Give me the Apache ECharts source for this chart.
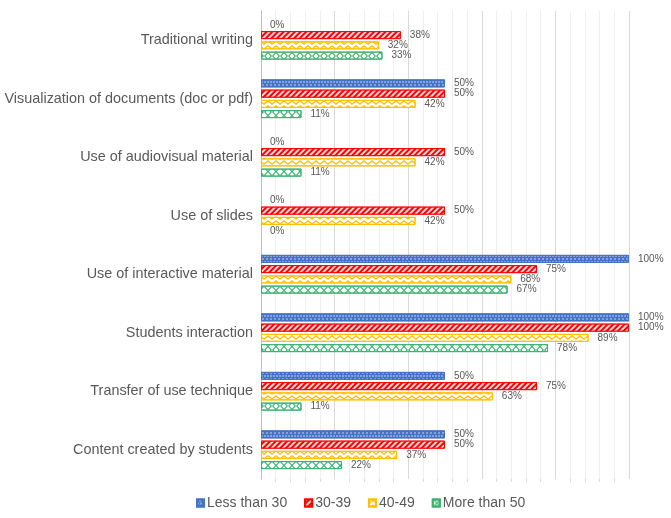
<!DOCTYPE html>
<html>
<head>
<meta charset="utf-8">
<script src="https://cdn.jsdelivr.net/npm/echarts@6/dist/echarts.min.js"></script>
<style>
  html, body { margin: 0; padding: 0; background: #fff; }
  #chart { width: 671px; height: 518px; }
</style>
</head>
<body>
<div id="chart"></div>
<script>
// categories, top to bottom
const categories = [
  'Traditional writing',
  'Visualization of documents (doc or pdf)',
  'Use of audiovisual material',
  'Use of slides',
  'Use of interactive material',
  'Students interaction',
  'Transfer of use technique',
  'Content created by students'
];

const seriesNames = ['Less than 30', '30-39', '40-49', 'More than 50'];

// percentages per age group
const lessThan30 = [0, 50, 0, 0, 100, 100, 50, 50];
const age30to39 = [38, 50, 50, 50, 75, 100, 75, 50];
const age40to49 = [32, 42, 42, 42, 68, 89, 63, 37];
const moreThan50 = [33, 11, 11, 0, 67, 78, 11, 22];

const seriesData = [lessThan30, age30to39, age40to49, moreThan50];

const chart = echarts.init(document.getElementById('chart'));

// 每个系列的颜色和花纹
const styles = [
  {
    color: '#4472C4',
    border: '#4472C4',
    decal: {
      color: 'rgba(255,255,255,0.8)',
      symbol: 'diamond',
      symbolSize: 0.9,
      dashArrayX: [[2, 1], [0, 1.5, 2, 0]],
      dashArrayY: [1.5, 0.5]
    }
  },
  {
    color: '#FF0000',
    border: '#FF0000',
    decal: {
      color: 'rgba(255,255,255,0.85)',
      symbol: 'rect',
      dashArrayX: [1, 0],
      dashArrayY: [1.5, 2],
      rotation: -Math.PI / 4
    }
  },
  {
    color: '#ffffff',
    border: '#FFC000',
    decal: {
      color: '#FFC000',
      symbol: 'path://M0,5 L5,1 L10,5 L10,7 L5,3 L0,7 Z',
      symbolSize: 1,
      symbolKeepAspect: false,
      dashArrayX: [8, 0],
      dashArrayY: [5, 0]
    }
  },
  {
    color: '#ffffff',
    border: '#3CB371',
    decal: {
      color: '#3CB371',
      symbol: 'path://M0,0 L2,0 L5,4 L8,0 L10,0 L6,5 L10,10 L8,10 L5,6 L2,10 L0,10 L4,5 Z',
      symbolSize: 1,
      symbolKeepAspect: false,
      dashArrayX: [8, 0],
      dashArrayY: [7, 0]
    }
  }
];

const option = {
  backgroundColor: '#fff',
  animation: false,
  textStyle: { fontFamily: 'Liberation Sans' },
  grid: {
    left: 261,
    right: 42,
    top: 11,
    bottom: 39
  },
  legend: {
    bottom: 3,
    left: 191,
    icon: 'rect',
    itemWidth: 7,
    itemHeight: 7,
    itemGap: 17,
    textStyle: { color: '#595959', fontSize: 14, padding: [0, 0, 0, -2] },
    data: seriesNames
  },
  xAxis: {
    type: 'value',
    min: 0,
    max: 100,
    interval: 20,
    axisLabel: { show: false },
    axisLine: { show: false },
    axisTick: { show: false },
    splitLine: { lineStyle: { color: '#d9d9d9', width: 1 } },
    minorTick: { show: true, splitNumber: 5, length: 3, lineStyle: { color: '#d9d9d9' } },
    minorSplitLine: { show: true, lineStyle: { color: '#eeeeee', width: 1 } }
  },
  yAxis: {
    type: 'category',
    inverse: true,
    data: categories,
    axisLine: { lineStyle: { color: '#bfbfbf' } },
    axisTick: { show: false },
    axisLabel: { color: '#595959', fontSize: 14.4, margin: 8 }
  },
  series: seriesNames.map((name, i) => ({
    name: name,
    type: 'bar',
    // 0% 的条不画边框，只留标签
    data: seriesData[i].map(v => v === 0 ? { value: v, itemStyle: { borderWidth: 0 } } : v),
    barWidth: 8,
    barGap: '28%',
    barCategoryGap: '28%',
    itemStyle: {
      color: styles[i].color,
      borderColor: styles[i].border,
      borderWidth: 1,
      decal: styles[i].decal
    },
    label: {
      show: true,
      position: 'right',
      distance: 9,
      color: '#595959',
      fontSize: 10,
      formatter: p => p.value + '%'
    }
  }))
};

chart.setOption(option);
</script>
</body>
</html>
